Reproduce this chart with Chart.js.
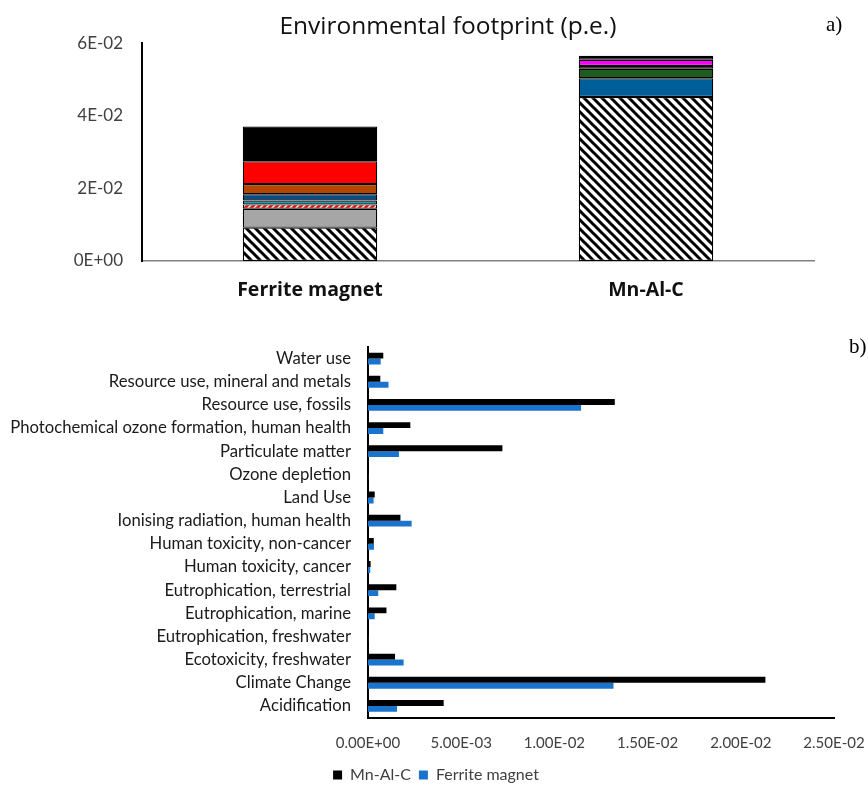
<!DOCTYPE html>
<html>
<head>
<meta charset="utf-8">
<script src="https://cdn.jsdelivr.net/npm/chart.js@4/dist/chart.umd.min.js"></script>
<style>
  body { margin: 0; background: #fff; width: 868px; height: 785px; position: relative; overflow: hidden; }
  canvas { position: absolute; left: 0; }
  #top { top: 0; }
  #bottom { top: 320px; }
  .tag { position: absolute; font-family: "Liberation Serif", serif; font-size: 21px; color: #000; }
</style>
</head>
<body>
<canvas id="top" width="868" height="312"></canvas>
<canvas id="bottom" width="868" height="475"></canvas>
<div class="tag" style="left:826px; top:12px;">a)</div>
<div class="tag" style="left:849px; top:334px;">b)</div>
<script>
// --- panel a) stacked footprint per product (bottom to top) ---
const products = ['Ferrite magnet', 'Mn-Al-C'];
const hatchedPart = [0.0092, 0.0452];
const greyPart = [0.0052, null];
const redWhitePart = [0.0012, null];
const tealPart = [0.0011, null];
const navyPart = [0.0017, null];
const brownPart = [0.0028, null];
const redPart = [0.0063, null];
const blackPart = [0.0096, null];
const bluePart = [null, 0.0052];
const greenPart = [null, 0.0026];
const darkPart = [null, 0.0008];
const magentaPart = [null, 0.0017];
const topPart = [null, 0.0011];
const footprintTicks = [0, 0.02, 0.04, 0.06];

// --- panel b) impact categories ---
const impactCats = [
  'Water use',
  'Resource use, mineral and metals',
  'Resource use, fossils',
  'Photochemical ozone formation, human health',
  'Particulate matter',
  'Ozone depletion',
  'Land Use',
  'Ionising radiation, human health',
  'Human toxicity, non-cancer',
  'Human toxicity, cancer',
  'Eutrophication, terrestrial',
  'Eutrophication, marine',
  'Eutrophication, freshwater',
  'Ecotoxicity, freshwater',
  'Climate Change',
  'Acidification'
];
const mnAlC = [0.00082, 0.00066, 0.01324, 0.00227, 0.00721, 0.00001, 0.00036, 0.00174,
  0.00031, 0.00014, 0.00152, 0.00099, 0.00001, 0.00145, 0.02132, 0.00406];
const ferrite = [0.00068, 0.0011, 0.01143, 0.00082, 0.00166, 0.00001, 0.0003, 0.00234,
  0.00032, 0.00012, 0.00055, 0.00036, 0.00001, 0.00191, 0.01317, 0.00156];
const impactTicks = [0, 0.005, 0.01, 0.015, 0.02, 0.025];

// Excel style scientific labels, e.g. 5.00E-03
function sci(v, d) {
  const parts = Number(v).toExponential(d).split('e');
  const n = parseInt(parts[1], 10);
  return parts[0] + 'E' + (n < 0 ? '-' : '+') + String(Math.abs(n)).padStart(2, '0');
}

function hatch() {
  const c = document.createElement('canvas');
  c.width = 9; c.height = 9;
  const g = c.getContext('2d');
  g.fillStyle = '#fff';
  g.fillRect(0, 0, 9, 9);
  g.strokeStyle = '#000';
  g.lineWidth = 3;
  g.beginPath();
  g.moveTo(-3, -3); g.lineTo(12, 12);
  g.moveTo(-3, 6); g.lineTo(3, 12);
  g.moveTo(6, -3); g.lineTo(12, 3);
  g.stroke();
  return g.createPattern(c, 'repeat');
}

function redDash() {
  const c = document.createElement('canvas');
  c.width = 6; c.height = 6;
  const g = c.getContext('2d');
  g.fillStyle = '#ff0000';
  g.fillRect(0, 0, 6, 6);
  g.strokeStyle = '#fff';
  g.lineWidth = 1.5;
  g.beginPath();
  g.moveTo(-1, 7); g.lineTo(7, -1);
  g.stroke();
  return g.createPattern(c, 'repeat');
}

// shift title / legend sideways (they are centred on the padded width otherwise)
const nudge = {
  id: 'nudge',
  afterLayout(chart, args, opts) {
    if (opts.title && chart.titleBlock) { chart.titleBlock.left += opts.title; chart.titleBlock.right += opts.title; }
    if (opts.legend && chart.legend) { chart.legend.left += opts.legend; chart.legend.right += opts.legend; }
  }
};

const FONT = 'Lato, "Open Sans", sans-serif';
const WIDE = '"Open Sans", Lato, sans-serif';

function seg(label, data, color) {
  return {
    label: label,
    data: data,
    backgroundColor: color,
    borderColor: '#000',
    borderWidth: 1.2,
    borderSkipped: false,
    categoryPercentage: 0.4,
    barPercentage: 1
  };
}

new Chart(document.getElementById('top'), {
  type: 'bar',
  data: {
    labels: products,
    datasets: [
      seg('Magnet material', hatchedPart, hatch()),
      seg('Grey', greyPart, '#a6a6a6'),
      seg('Red dashed', redWhitePart, redDash()),
      seg('Teal', tealPart, '#17a2a6'),
      seg('Navy', navyPart, '#0a4a86'),
      seg('Brown', brownPart, '#b34700'),
      seg('Red', redPart, '#ff0000'),
      seg('Black', blackPart, '#000000'),
      seg('Blue', bluePart, '#005f99'),
      seg('Green', greenPart, '#1f5a1f'),
      seg('Dark', darkPart, '#000000'),
      seg('Magenta', magentaPart, '#ff00ff'),
      seg('Top', topPart, '#000000')
    ]
  },
  plugins: [nudge],
  options: {
    responsive: false,
    animation: false,
    layout: { padding: { left: 0, right: 54, top: 0, bottom: 0 } },
    plugins: {
      legend: { display: false },
      tooltip: { enabled: false },
      title: {
        display: true,
        text: 'Environmental footprint (p.e.)',
        color: '#111',
        font: { family: WIDE, size: 24.5, weight: 'normal' },
        padding: { top: 12, bottom: 2 }
      },
      nudge: { title: 41 }
    },
    scales: {
      x: {
        stacked: true,
        grid: { display: false, drawTicks: false },
        border: { color: '#808080', width: 1.5 },
        ticks: { color: '#111', padding: 18, font: { family: WIDE, size: 19.5, weight: 'bold' } },
        afterFit(s) { s.height = 51; }
      },
      y: {
        stacked: true,
        min: 0,
        max: 0.06,
        afterBuildTicks(s) { s.ticks = footprintTicks.map(v => ({ value: v })); },
        grid: { display: false, drawTicks: false },
        border: { color: '#000', width: 2 },
        ticks: { color: '#404040', padding: 19, font: { family: FONT, size: 17 }, callback: v => sci(v, 0) },
        afterFit(s) { s.width = 142; }
      }
    }
  }
});

new Chart(document.getElementById('bottom'), {
  type: 'bar',
  data: {
    labels: impactCats,
    datasets: [
      { label: 'Mn-Al-C', data: mnAlC, backgroundColor: '#000000', categoryPercentage: 0.51, barPercentage: 1 },
      { label: 'Ferrite magnet', data: ferrite, backgroundColor: '#1a73cc', categoryPercentage: 0.51, barPercentage: 1 }
    ]
  },
  plugins: [nudge],
  options: {
    indexAxis: 'y',
    responsive: false,
    animation: false,
    layout: { padding: { left: 0, right: 34, top: 22, bottom: 2 } },
    plugins: {
      tooltip: { enabled: false },
      legend: {
        position: 'bottom',
        labels: { color: '#404040', boxWidth: 9, boxHeight: 9, padding: 8, font: { family: FONT, size: 16 } }
      },
      nudge: { legend: 19 }
    },
    scales: {
      x: {
        min: 0,
        max: 0.025,
        afterBuildTicks(s) { s.ticks = impactTicks.map(v => ({ value: v })); },
        grid: { display: false, drawTicks: false },
        border: { color: '#000', width: 2 },
        ticks: { color: '#404040', padding: 17, maxRotation: 0, font: { family: FONT, size: 15 }, callback: v => sci(v, 2) },
        afterFit(s) { s.height = 41.5; s.paddingLeft = 0; s.paddingRight = 0; }
      },
      y: {
        grid: { display: false, drawTicks: false },
        border: { color: '#000', width: 2 },
        ticks: { color: '#1a1a1a', padding: 17, autoSkip: false, font: { family: FONT, size: 16.7 } },
        afterFit(s) { s.width = 368; }
      }
    }
  }
});
</script>
</body>
</html>
